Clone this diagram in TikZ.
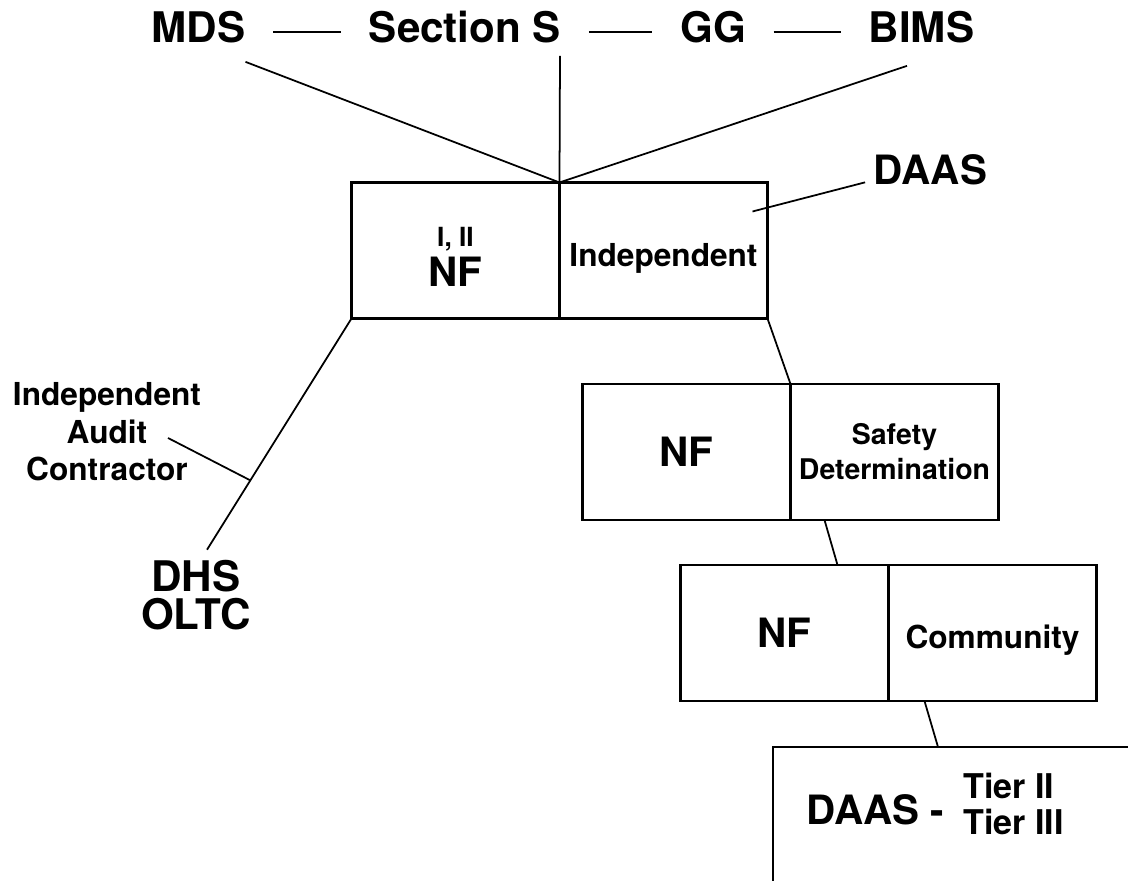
\documentclass[tikz,border=0pt]{standalone}
\usepackage{fontspec}
\setmainfont{TeX Gyre Heros}
\usetikzlibrary{positioning}

\begin{document}
\begin{tikzpicture}[x=1cm,y=1cm,line width=.5pt,
                    cell/.style={draw,line width=.65pt,minimum width=2.08cm,minimum height=1.36cm,inner sep=0pt,outer sep=0pt,align=center},
                    hd/.style={font=\fontsize{12}{14}\selectfont\bfseries,inner ysep=0pt,inner xsep=.27cm,text height=.22cm,text depth=0pt,anchor=base},
                    big/.style={font=\fontsize{11.5}{11.4}\selectfont\bfseries},
                    mid/.style={font=\fontsize{9}{10.7}\selectfont\bfseries},
                    sml/.style={font=\fontsize{8.1}{10}\selectfont\bfseries}]
  \useasboundingbox (0,0) rectangle (11.28,8.81);
  \clip (0,0) rectangle (11.28,8.81);
  % sources along the top
  \node[hd] (mds) at (1.985,8.38) {MDS};
  \node[hd] (secs) at (4.65,8.38) {Section S};
  \node[hd] (gg) at (7.13,8.38) {GG};
  \node[hd] (bims) at (9.215,8.38) {BIMS};
  \draw (mds) -- (secs) -- (gg) -- (bims);
  % the chain of boxes
  \node[cell,big,text height=.72cm] (nf1) at (4.555,6.305) {{\fontsize{7.5}{9}\selectfont I, II}\\NF};
  \node[cell,mid,text height=.38cm,right=0pt of nf1] (ind) {Independent};
  \node[cell,big] (nf2) at (6.865,4.29) {NF};
  \node[cell,sml,right=0pt of nf2] (sd) {Safety\\Determination};
  \node[cell,big] (nf3) at (7.845,2.48) {NF};
  \node[cell,mid,text height=.38cm,right=0pt of nf3] (com) {Community};
  \node[draw,line width=.65pt,minimum width=4cm,minimum height=2cm,inner sep=0pt,outer sep=0pt,anchor=north west] (tbox) at (7.73,1.34) {};
  \node[big,anchor=base] (tiers) at (9.35,0.56) {DAAS -\hspace{.08cm} \raisebox{.07cm}{\fontsize{9.7}{10}\selectfont\begin{tabular}{@{}l@{}}Tier II\\Tier III\end{tabular}}};
  \draw ([xshift=.47cm,yshift=-.18cm]mds.south) -- (nf1.north east);
  \draw ([xshift=.95cm,yshift=-.12cm]secs.south) -- (nf1.north east);
  \draw ([xshift=-.145cm,yshift=-.22cm]bims.south) -- (nf1.north east);
  \draw (ind.south east) -- (sd.north west);
  \draw ([xshift=.34cm]sd.south west) -- ([xshift=-.51cm]com.north west);
  \draw ([xshift=.36cm]com.south west) -- ([xshift=1.65cm]tbox.north west);
  % DAAS pointer into the box
  \node[big,inner sep=0pt,anchor=base] (daas) at (9.305,6.96) {DAAS};
  \draw ([xshift=-.08cm,yshift=.04cm]daas.south west) -- ([xshift=-.15cm,yshift=-.29cm]ind.north east);
  % left branch
  \node[mid,align=center] (iac) at (1.07,4.49) {Independent\\Audit\\Contractor};
  \node[align=center,inner sep=.1cm,font=\fontsize{12}{10.8}\selectfont\bfseries] (dhs) at (1.96,2.855) {DHS\\OLTC};
  \draw (nf1.south west) -- coordinate[pos=.7] (foot) ([xshift=.11cm]dhs.north);
  \draw ([xshift=.61cm,yshift=-.06cm]iac.center) -- (foot);
\end{tikzpicture}
\end{document}
